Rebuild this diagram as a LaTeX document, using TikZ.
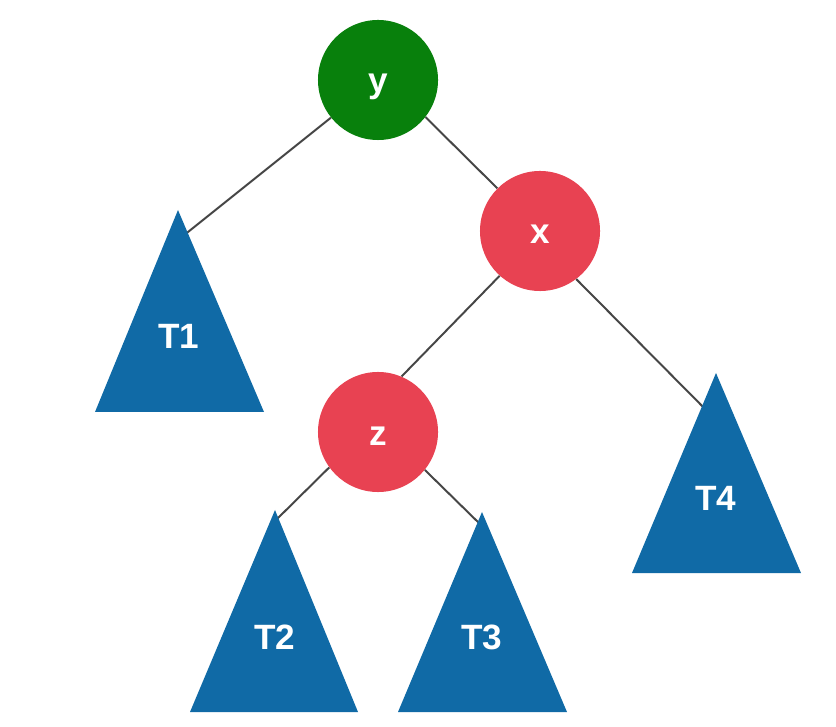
\documentclass[tikz,border=0pt]{standalone}
\usepackage{fontspec}
\setsansfont{Liberation Sans}
\usetikzlibrary{positioning}

\definecolor{keygreen}{RGB}{8,128,12}
\definecolor{keyred}{RGB}{232,66,82}
\definecolor{subblue}{RGB}{16,106,166}
\definecolor{edgegray}{RGB}{70,70,70}

\begin{document}
\begin{tikzpicture}[
        x=0.025cm, y=-0.025cm,
        key/.style={circle, inner sep=0pt, minimum size=3cm, text height=0.65cm, text depth=0cm, text=white, font=\sffamily\bfseries\fontsize{25}{30}\selectfont},
        sub/.style={fill=subblue},
        sublabel/.style={inner sep=0pt, text=white, font=\sffamily\bfseries\fontsize{25}{30}\selectfont},
        edge/.style={draw=edgegray, line width=1.4pt}
    ]
        \useasboundingbox (0,0) rectangle (836,727);

        % keys
        \node[key, fill=keygreen] (y) at (378,80) {y};
        \node[key, fill=keyred] (x) at (540,231) {x};
        \node[key, fill=keyred] (z) at (378,432) {z};

        % where the edges run into the subtrees
        \coordinate (T1in) at (178,240);
        \coordinate (T2in) at (275,521);
        \coordinate (T3in) at (482,526);
        \coordinate (T4in) at (716,420);

        \draw[edge] (y) -- (T1in);
        \draw[edge] (y.322) -- (x.135);
        \draw[edge] (x.228) -- (z.67);
        \draw[edge] (x.307) -- (T4in);
        \draw[edge] (z.216) -- (T2in);
        \draw[edge] (z.321) -- (T3in);

        % subtrees
        \fill[sub] (178,210) -- (95,412) -- (264,412) -- cycle;
        \fill[sub] (275,510) -- (190,712) -- (358,712) -- cycle;
        \fill[sub] (482,512) -- (398,712) -- (567,712) -- cycle;
        \fill[sub] (716,373) -- (632,573) -- (801,573) -- cycle;

        \node[sublabel] (T1) at (179,336) {T1};
        \node[sublabel] (T2) at (275,637) {T2};
        \node[sublabel] (T3) at (482,637) {T3};
        \node[sublabel] (T4) at (716,498) {T4};
    \end{tikzpicture}
\end{document}
